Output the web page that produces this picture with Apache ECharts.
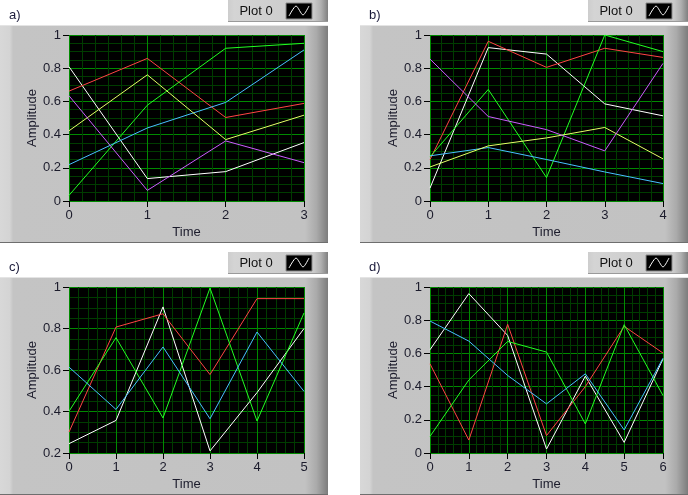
<!DOCTYPE html>
<html>
<head>
<meta charset="utf-8">
<script src="https://cdn.jsdelivr.net/npm/echarts@6/dist/echarts.min.js"></script>
<style>
html, body { margin: 0; padding: 0; background: #fff; }
#chart { width: 688px; height: 495px; }
</style>
</head>
<body>
<div id="chart"></div>
<script>
// time axes
const timeA = [0, 1, 2, 3];
const timeB = [0, 1, 2, 3, 4];
const timeC = [0, 1, 2, 3, 4, 5];
const timeD = [0, 1, 2, 3, 4, 5, 6];

// a)
const aWhite   = [0.809, 0.135, 0.177, 0.352];
const aRed     = [0.662, 0.859, 0.503, 0.588];
const aGreen   = [0.034, 0.577, 0.920, 0.950];
const aBlue    = [0.219, 0.440, 0.594, 0.910];
const aYellow  = [0.423, 0.760, 0.370, 0.517];
const aMagenta = [0.634, 0.064, 0.362, 0.231];

// b)
const bWhite   = [0.078, 0.924, 0.885, 0.585, 0.513];
const bRed     = [0.250, 0.962, 0.805, 0.920, 0.865];
const bGreen   = [0.266, 0.672, 0.141, 1.000, 0.900];
const bBlue    = [0.272, 0.322, 0.250, 0.175, 0.105];
const bYellow  = [0.205, 0.332, 0.380, 0.443, 0.254];
const bMagenta = [0.855, 0.509, 0.430, 0.302, 0.829];

// c)
const cWhite = [0.245, 0.357, 0.904, 0.210, 0.491, 0.800];
const cRed   = [0.301, 0.807, 0.871, 0.578, 0.944, 0.944];
const cGreen = [0.401, 0.756, 0.369, 0.995, 0.354, 0.875];
const cBlue  = [0.614, 0.410, 0.711, 0.365, 0.783, 0.497];

// d)
const dWhite = [0.622, 0.960, 0.708, 0.024, 0.463, 0.064, 0.567];
const dRed   = [0.537, 0.078, 0.775, 0.105, 0.400, 0.763, 0.602];
const dGreen = [0.100, 0.440, 0.672, 0.608, 0.175, 0.773, 0.346];
const dBlue  = [0.795, 0.674, 0.467, 0.296, 0.477, 0.139, 0.571];

const colors = {
    white: '#ffffff',
    red: '#ff4444',
    green: '#22ff22',
    blue: '#48c0ff',
    yellow: '#e4ff66',
    magenta: '#cc5cff'
};

const font = "'Liberation Sans', Arial, sans-serif";

const panels = [
    { label: 'a)', fx: 0, fy: 0, left: 69, top: 35, width: 235, time: timeA, yMin: 0, xMinor: 6,
      lines: [[aWhite, 'white'], [aRed, 'red'], [aGreen, 'green'], [aBlue, 'blue'], [aYellow, 'yellow'], [aMagenta, 'magenta']] },
    { label: 'b)', fx: 360, fy: 0, left: 430, top: 35, width: 233, time: timeB, yMin: 0, xMinor: 5,
      lines: [[bWhite, 'white'], [bRed, 'red'], [bGreen, 'green'], [bBlue, 'blue'], [bYellow, 'yellow'], [bMagenta, 'magenta']] },
    { label: 'c)', fx: 0, fy: 252, left: 69, top: 287, width: 235, time: timeC, yMin: 0.2, xMinor: 5,
      lines: [[cWhite, 'white'], [cRed, 'red'], [cGreen, 'green'], [cBlue, 'blue']] },
    { label: 'd)', fx: 360, fy: 252, left: 430, top: 287, width: 233, time: timeD, yMin: 0, xMinor: 5,
      lines: [[dWhite, 'white'], [dRed, 'red'], [dGreen, 'green'], [dBlue, 'blue']] }
];

const frameFill = new echarts.graphic.LinearGradient(0, 0, 1, 0, [
    { offset: 0, color: '#d8d8d8' },
    { offset: 0.03, color: '#d4d4d4' },
    { offset: 0.04, color: '#c4c4c4' },
    { offset: 0.93, color: '#c2c2c2' },
    { offset: 0.965, color: '#aaaaaa' },
    { offset: 1, color: '#7c7c7c' }
]);

const legendFill = new echarts.graphic.LinearGradient(0, 0, 1, 0, [
    { offset: 0, color: '#cdcdcd' },
    { offset: 0.06, color: '#d4d4d4' },
    { offset: 0.86, color: '#cacaca' },
    { offset: 0.93, color: '#b0b0b0' },
    { offset: 1, color: '#808080' }
]);

const grids = [], xAxes = [], yAxes = [], series = [], graphics = [];

panels.forEach((p, i) => {
    grids.push({
        left: p.left, top: p.top, width: p.width, height: 166,
        show: true, backgroundColor: '#000', borderWidth: 0
    });

    xAxes.push({
        type: 'value', gridIndex: i,
        min: 0, max: p.time[p.time.length - 1], interval: 1,
        axisLine: { show: false },
        axisTick: { show: true, length: 6, lineStyle: { color: '#000' } },
        axisLabel: { color: '#1c1c2c', fontSize: 13, fontFamily: font, margin: 8 },
        splitLine: { show: true, lineStyle: { color: '#008a00', width: 1 } },
        minorTick: { show: false, splitNumber: p.xMinor },
        minorSplitLine: { show: true, lineStyle: { color: '#003c00', width: 1 } },
        name: 'Time', nameLocation: 'middle', nameGap: 25,
        nameTextStyle: { color: '#1c1c2c', fontSize: 13, fontFamily: font }
    });

    yAxes.push({
        type: 'value', gridIndex: i,
        min: p.yMin, max: 1, interval: 0.2,
        axisLine: { show: false },
        axisTick: { show: true, length: 6, lineStyle: { color: '#000' } },
        axisLabel: { color: '#1c1c2c', fontSize: 13, fontFamily: font, margin: 8 },
        splitLine: { show: true, lineStyle: { color: '#008a00', width: 1 } },
        minorTick: { show: false, splitNumber: 4 },
        minorSplitLine: { show: true, lineStyle: { color: '#003c00', width: 1 } },
        name: 'Amplitude', nameLocation: 'middle', nameRotate: 90, nameGap: 28,
        nameTextStyle: { color: '#1c1c2c', fontSize: 13, fontFamily: font }
    });

    p.lines.forEach(([vals, c]) => {
        series.push({
            type: 'line', xAxisIndex: i, yAxisIndex: i,
            data: vals.map((v, k) => [p.time[k], v]),
            symbol: 'none', silent: true,
            lineStyle: { color: colors[c], width: 1 }
        });
    });

    // frame around the graph
    graphics.push(
        { type: 'rect', z: -10, shape: { x: p.fx, y: p.fy + 25, width: 328, height: 218 }, style: { fill: frameFill } },
        { type: 'rect', z: -9, shape: { x: p.fx, y: p.fy + 25, width: 328, height: 1 }, style: { fill: '#e4e4e4' } },
        { type: 'rect', z: -9, shape: { x: p.fx, y: p.fy + 242, width: 328, height: 1 }, style: { fill: '#6e6e6e' } }
    );

    // plot legend
    graphics.push(
        { type: 'rect', z: -10, shape: { x: p.fx + 228, y: p.fy, width: 100, height: 22 }, style: { fill: legendFill } },
        { type: 'rect', z: -9, shape: { x: p.fx + 228, y: p.fy + 21, width: 100, height: 1 }, style: { fill: '#9a9a9a' } },
        { type: 'text', z: -8, style: { x: p.fx + 256, y: p.fy + 11, text: 'Plot 0', fill: '#111', font: '13px ' + font, align: 'center', verticalAlign: 'middle' } },
        { type: 'rect', z: -8, shape: { x: p.fx + 286, y: p.fy + 3, width: 26, height: 16 }, style: { fill: '#000', stroke: '#8c8c8c', lineWidth: 1 } },
        { type: 'polyline', z: -7, shape: { points: [[p.fx + 289, p.fy + 16], [p.fx + 296, p.fy + 6], [p.fx + 303, p.fy + 15], [p.fx + 309, p.fy + 6]], smooth: 0.25 },
          style: { stroke: '#fff', lineWidth: 1, fill: null } },
        { type: 'text', z: -8, style: { x: p.fx + 9, y: p.fy + 15, text: p.label, fill: '#1a1a3a', font: '13px ' + font, verticalAlign: 'middle' } }
    );
});

const chart = echarts.init(document.getElementById('chart'));
chart.setOption({
    animation: false,
    backgroundColor: '#fff',
    grid: grids,
    xAxis: xAxes,
    yAxis: yAxes,
    series: series,
    graphic: graphics
});
</script>
</body>
</html>
